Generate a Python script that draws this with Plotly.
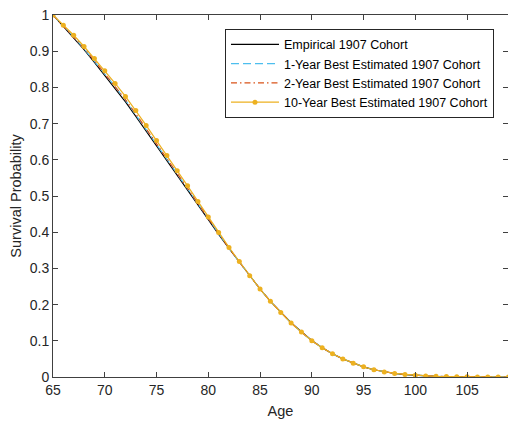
import plotly.graph_objects as go

ages = list(range(65, 110))

empirical = [1.000, 0.968, 0.937, 0.904, 0.869, 0.833, 0.797, 0.760, 0.720, 0.679,
             0.637, 0.597, 0.557, 0.517, 0.476, 0.435, 0.394, 0.355, 0.317, 0.279,
             0.243, 0.209, 0.178, 0.150, 0.125, 0.101, 0.081, 0.064, 0.050, 0.038,
             0.028, 0.020, 0.014, 0.0095, 0.0065, 0.0043, 0.0028, 0.0018, 0.0011, 0.0006,
             0.0004, 0.0002, 0.0001, 0.00005, 0.00002]

est_1yr = [1.000, 0.970, 0.940, 0.907, 0.873, 0.838, 0.802, 0.765, 0.725, 0.684,
           0.643, 0.602, 0.561, 0.520, 0.479, 0.437, 0.396, 0.356, 0.318, 0.280,
           0.243, 0.209, 0.178, 0.149, 0.124, 0.100, 0.081, 0.064, 0.050, 0.038,
           0.028, 0.020, 0.014, 0.010, 0.007, 0.0046, 0.0030, 0.0019, 0.0012, 0.0007,
           0.0004, 0.0002, 0.0001, 0.00005, 0.00002]

est_2yr = [1.000, 0.970, 0.940, 0.908, 0.874, 0.839, 0.803, 0.766, 0.727, 0.686,
           0.645, 0.604, 0.563, 0.522, 0.480, 0.438, 0.396, 0.356, 0.318, 0.280,
           0.243, 0.209, 0.178, 0.149, 0.124, 0.100, 0.081, 0.064, 0.050, 0.038,
           0.028, 0.020, 0.014, 0.010, 0.007, 0.0046, 0.0030, 0.0019, 0.0012, 0.0007,
           0.0004, 0.0002, 0.0001, 0.00005, 0.00002]

est_10yr = [1.000, 0.972, 0.944, 0.913, 0.880, 0.846, 0.811, 0.775, 0.736, 0.695,
            0.653, 0.612, 0.570, 0.528, 0.485, 0.442, 0.399, 0.358, 0.319, 0.280,
            0.243, 0.209, 0.178, 0.149, 0.124, 0.100, 0.081, 0.064, 0.050, 0.038,
            0.028, 0.020, 0.014, 0.010, 0.007, 0.0047, 0.0030, 0.0019, 0.0012, 0.0007,
            0.0004, 0.0002, 0.0001, 0.00005, 0.00002]

x_ticks = [65, 70, 75, 80, 85, 90, 95, 100, 105]
y_ticks = [0, 0.1, 0.2, 0.3, 0.4, 0.5, 0.6, 0.7, 0.8, 0.9, 1]
y_tick_text = ["0", "0.1", "0.2", "0.3", "0.4", "0.5", "0.6", "0.7", "0.8", "0.9", "1"]

fig = go.Figure()
fig.add_trace(go.Scatter(x=ages, y=empirical, mode="lines", name="Empirical 1907 Cohort",
                         line=dict(color="#000000", width=1.1)))
fig.add_trace(go.Scatter(x=ages, y=est_1yr, mode="lines", name="1-Year Best Estimated 1907 Cohort",
                         line=dict(color="#4DBEEE", width=1.2, dash="8px,4px")))
fig.add_trace(go.Scatter(x=ages, y=est_2yr, mode="lines", name="2-Year Best Estimated 1907 Cohort",
                         line=dict(color="#D95319", width=1.2, dash="6px,3px,1.5px,3px")))
fig.add_trace(go.Scatter(x=ages, y=est_10yr, mode="lines+markers", name="10-Year Best Estimated 1907 Cohort",
                         line=dict(color="#EDB120", width=1.2),
                         marker=dict(color="#EDB120", size=5, symbol="circle")))

axis_color = "#404040"
font_family = "Liberation Sans, Arial, Helvetica, sans-serif"

fig.update_layout(
    width=508, height=423,
    margin=dict(l=53, r=0, t=15, b=46),
    plot_bgcolor="white", paper_bgcolor="white",
    font=dict(family=font_family, color="#262626", size=14),
    showlegend=True,
    legend=dict(x=0.378, y=0.962, xanchor="left", yanchor="top",
                bgcolor="white", bordercolor="#262626", borderwidth=1,
                font=dict(size=12.5, color="#000000"), itemwidth=48,
                tracegroupgap=0),
    xaxis=dict(range=[65, 108.95], tickvals=x_ticks, ticks="inside", ticklen=5,
               tickcolor=axis_color, showline=True, linecolor=axis_color, linewidth=1,
               mirror="ticks", showgrid=False, zeroline=False,
               title=dict(text="Age", font=dict(size=14.5), standoff=9),
               tickfont=dict(size=14)),
    yaxis=dict(range=[0, 1], tickvals=y_ticks, ticktext=y_tick_text, ticks="inside", ticklen=5,
               tickcolor=axis_color, showline=True, linecolor=axis_color, linewidth=1,
               mirror="ticks", showgrid=False, zeroline=False,
               title=dict(text="Survival Probability", font=dict(size=14.5), standoff=4),
               tickfont=dict(size=14)),
)

fig.write_html("out.html")
